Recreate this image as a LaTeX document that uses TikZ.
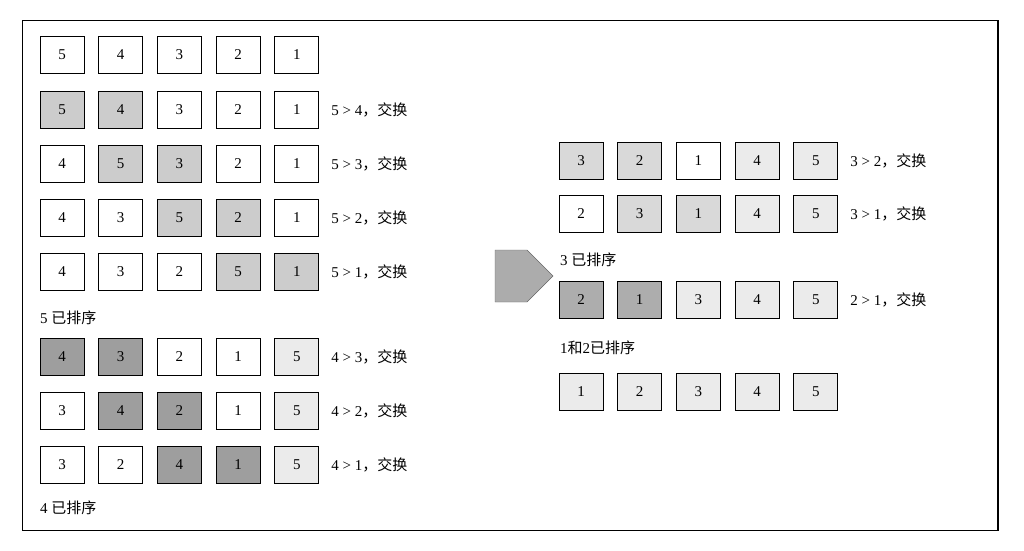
\documentclass[tikz,border=0pt]{standalone}
\usepackage{fontspec}
\setmainfont{Liberation Serif}
\newfontfamily\cjk{Noto Sans CJK SC}
\usetikzlibrary{shapes.arrows}
\definecolor{cmpA}{gray}{0.80}
\definecolor{cmpB}{gray}{0.62}
\definecolor{cmpC}{gray}{0.85}
\definecolor{cmpD}{gray}{0.68}
\definecolor{done}{gray}{0.92}
\tikzset{cell/.style={draw,line width=0.9pt,minimum width=44pt,minimum height=37pt,inner sep=0pt,font=\fontsize{15}{17}\selectfont},
  note/.style={anchor=west,inner sep=0pt,font=\fontsize{15}{17}\selectfont}}
% one row of five cells: name, x of first cell, y, list value/colour
\newcommand{\cellrow}[4]{%
  \foreach \v/\c [count=\i] in {#4}
    \node[cell,fill=\c] (#1-\i) at (#2+58.7*\i-58.7,#3) {\v};}
\begin{document}
\begin{tikzpicture}[x=1pt,y=-1pt]
\useasboundingbox (0,0) rectangle (1024,550);
\draw[line width=1pt] (22,20) rectangle (998,530);
\draw[line width=2pt] (998,20) -- (998,530);
% first pass
\cellrow{ra}{62}{55}{5/white,4/white,3/white,2/white,1/white}
\cellrow{rb}{62}{110}{5/cmpA,4/cmpA,3/white,2/white,1/white}
\cellrow{rc}{62}{164}{4/white,5/cmpA,3/cmpA,2/white,1/white}
\cellrow{rd}{62}{218}{4/white,3/white,5/cmpA,2/cmpA,1/white}
\cellrow{re}{62}{272}{4/white,3/white,2/white,5/cmpA,1/cmpA}
\node[note] (sa) at (40,318) {5 {\cjk 已排序}};
% second pass
\cellrow{rf}{62}{357}{4/cmpB,3/cmpB,2/white,1/white,5/done}
\cellrow{rg}{62}{411}{3/white,4/cmpB,2/cmpB,1/white,5/done}
\cellrow{rh}{62}{465}{3/white,2/white,4/cmpB,1/cmpB,5/done}
\node[note] (sb) at (40,508) {4 {\cjk 已排序}};
\foreach \r/\t in {rb/5 > 4,rc/5 > 3,rd/5 > 2,re/5 > 1,rf/4 > 3,rg/4 > 2,rh/4 > 1}
  \node[note] at ([xshift=12pt]\r-5.east) {\t{\cjk ，交换}};
% arrow
\node[single arrow,draw=gray!80!black,fill=gray!65,minimum height=58pt,minimum width=52pt,single arrow head extend=0pt,inner sep=0pt,shape border uses incircle] (go) at (511,276) {};
% third and fourth pass
\cellrow{ri}{581}{161}{3/cmpC,2/cmpC,1/white,4/done,5/done}
\cellrow{rj}{581}{214}{2/white,3/cmpC,1/cmpC,4/done,5/done}
\node[note] (sc) at (560,260) {3 {\cjk 已排序}};
\cellrow{rk}{581}{300}{2/cmpD,1/cmpD,3/done,4/done,5/done}
\node[note] (sd) at (560,348) {1{\cjk 和}2{\cjk 已排序}};
\cellrow{rl}{581}{392}{1/done,2/done,3/done,4/done,5/done}
\foreach \r/\t in {ri/3 > 2,rj/3 > 1,rk/2 > 1}
  \node[note] at ([xshift=12pt]\r-5.east) {\t{\cjk ，交换}};
\end{tikzpicture}
\end{document}
